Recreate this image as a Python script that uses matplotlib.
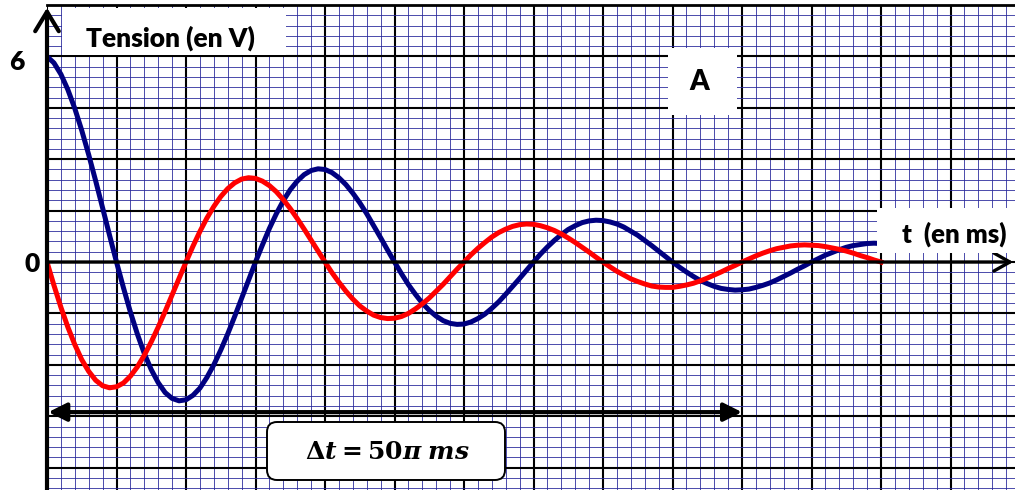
import numpy as np
import matplotlib.pyplot as plt
from matplotlib.patches import Rectangle, FancyBboxPatch

t_ms = np.pi / 2 * np.arange(121)

# Tension bleue (en V)
u_bleu = [6.00, 5.81, 5.48, 5.03, 4.48, 3.84, 3.13, 2.37, 1.58, 0.78,
          0.00, -0.75, -1.46, -2.10, -2.67, -3.14, -3.52, -3.81, -3.98, -4.05,
          -4.02, -3.89, -3.68, -3.37, -3.00, -2.57, -2.10, -1.59, -1.06, -0.53,
          0.00, 0.50, 0.98, 1.41, 1.79, 2.11, 2.36, 2.55, 2.67, 2.72,
          2.70, 2.61, 2.46, 2.26, 2.01, 1.73, 1.41, 1.06, 0.71, 0.35,
          0.00, -0.34, -0.66, -0.94, -1.20, -1.41, -1.58, -1.71, -1.79, -1.82,
          -1.81, -1.75, -1.65, -1.52, -1.35, -1.16, -0.94, -0.71, -0.48, -0.24,
          0.00, 0.23, 0.44, 0.63, 0.80, 0.95, 1.06, 1.15, 1.20, 1.22,
          1.21, 1.17, 1.11, 1.02, 0.90, 0.78, 0.63, 0.48, 0.32, 0.16,
          0.00, -0.15, -0.29, -0.42, -0.54, -0.63, -0.71, -0.77, -0.80, -0.82,
          -0.81, -0.79, -0.74, -0.68, -0.61, -0.52, -0.42, -0.32, -0.21, -0.11,
          0.00, 0.10, 0.20, 0.28, 0.36, 0.43, 0.48, 0.51, 0.54, 0.55,
          0.54]

# Tension rouge (en V)
u_rouge = [0.00, -0.68, -1.32, -1.90, -2.41, -2.85, -3.19, -3.45, -3.61, -3.67,
           -3.64, -3.53, -3.33, -3.06, -2.72, -2.33, -1.90, -1.44, -0.96, -0.48,
           0.00, 0.46, 0.89, 1.28, 1.62, 1.91, 2.14, 2.31, 2.42, 2.46,
           2.44, 2.36, 2.23, 2.05, 1.82, 1.56, 1.27, 0.96, 0.64, 0.32,
           0.00, -0.31, -0.59, -0.85, -1.08, -1.28, -1.43, -1.55, -1.62, -1.65,
           -1.64, -1.59, -1.50, -1.37, -1.22, -1.05, -0.85, -0.65, -0.43, -0.21,
           0.00, 0.21, 0.40, 0.57, 0.73, 0.86, 0.96, 1.04, 1.09, 1.11,
           1.10, 1.06, 1.00, 0.92, 0.82, 0.70, 0.57, 0.43, 0.29, 0.14,
           0.00, -0.14, -0.27, -0.38, -0.49, -0.57, -0.64, -0.70, -0.73, -0.74,
           -0.74, -0.71, -0.67, -0.62, -0.55, -0.47, -0.38, -0.29, -0.19, -0.10,
           0.00, 0.09, 0.18, 0.26, 0.33, 0.39, 0.43, 0.47, 0.49, 0.50,
           0.49, 0.48, 0.45, 0.41, 0.37, 0.32, 0.26, 0.19, 0.13, 0.06,
           0.00]

delta_t = 50 * np.pi      # ms, durée indiquée par la double flèche
y_ticks_lbl = [6, 0]      # graduations écrites sur l'axe vertical

plt.rcParams['mathtext.fontset'] = 'custom'
plt.rcParams['mathtext.rm'] = 'DejaVu Serif:bold'
plt.rcParams['mathtext.it'] = 'DejaVu Serif:bold:italic'

W, H = 1015, 490
fig = plt.figure(figsize=(W / 100, H / 100), dpi=100)
fig.patch.set_facecolor('white')

# Axes : 5 pi ms par grand carreau, 1.5 V par grand carreau
ax = fig.add_axes([47 / W, 0, (W - 47) / W, 485 / H])
x_max = (W - 47) * 5 * np.pi / 69.5
ax.set_xlim(0, x_max)
ax.set_ylim(7.5 - 485 / 34.27, 7.5)

ax.set_xticks(np.arange(0, x_max, 5 * np.pi))
ax.set_xticks(np.arange(0, x_max, np.pi), minor=True)
ax.set_yticks(np.arange(-4, 6) * 1.5)
ax.set_yticks(np.arange(-22, 26) * 0.3, minor=True)
ax.tick_params(which='both', length=0, labelbottom=False, labelleft=False)
ax.grid(which='minor', color='#2a2a9c', lw=0.7, alpha=0.85)
ax.grid(which='major', color='black', lw=1.5)
ax.set_axisbelow(True)
for side in ['left', 'right', 'bottom']:
    ax.spines[side].set_visible(False)
ax.spines['top'].set_linewidth(2)

# Courbes
ax.plot(t_ms, u_bleu, color='#000080', lw=3.6, zorder=3)
ax.plot(t_ms, u_rouge, color='#ff0000', lw=3.6, zorder=3)

# Axes fléchés
def fleche(xy, xytext, style, lw):
    a = ax.annotate('', xy=xy, xytext=xytext,
                    arrowprops=dict(arrowstyle=style, lw=lw, color='black',
                                    shrinkA=0, shrinkB=0),
                    annotation_clip=False, zorder=4)
    a.arrow_patch.set_clip_on(False)
    return a

fleche((0, 7.42), (0, -6.7), '->,head_length=1.4,head_width=0.85', 3)
fleche((x_max - 0.4, 0), (0, 0), '->,head_length=1.15,head_width=0.65', 2.4)
fleche((delta_t, -4.38), (0.3, -4.38), '<|-|>,head_length=1.1,head_width=0.55', 3)

# Cadres et textes (positions en pouces depuis le coin bas gauche)
tr = fig.dpi_scale_trans
lbl_font = ['Lato', 'DejaVu Sans']

def cadre(x0, y0, x1, y1):
    fig.add_artist(Rectangle((x0 / 100, (H - y1) / 100), (x1 - x0) / 100,
                             (y1 - y0) / 100, transform=tr, fc='white',
                             ec='none', zorder=5))

cadre(62, 8, 286, 55)
cadre(668, 48, 737, 115)
cadre(877, 208, W, 253)

fig.add_artist(FancyBboxPatch((2.67, (H - 480) / 100), 2.38, 0.58,
                              boxstyle='round,pad=0,rounding_size=0.1',
                              transform=tr, fc='white', ec='black', lw=1.4,
                              zorder=5))

fig.text(1.70, (H - 38) / 100, 'Tension (en V)', transform=tr, ha='center',
         va='center', fontsize=19, fontweight='heavy', family=lbl_font, zorder=6)
fig.text(6.99, (H - 82) / 100, 'A', transform=tr, ha='center', va='center',
         fontsize=20, fontweight='heavy', family=lbl_font, zorder=6)
fig.text(9.54, (H - 234) / 100, 't  (en ms)', transform=tr, ha='center',
         va='center', fontsize=18.5, fontweight='heavy', family=lbl_font, zorder=6)
fig.text(3.87, (H - 452) / 100, r'$\Delta t = 50\pi\;ms$', transform=tr,
         ha='center', va='center', fontsize=18, zorder=6)

fig.text(0.17, (H - 62) / 100, str(y_ticks_lbl[0]), transform=tr, ha='center',
         va='center', fontsize=19, fontweight='heavy', family=lbl_font)
fig.text(0.32, (H - 264) / 100, str(y_ticks_lbl[1]), transform=tr, ha='center',
         va='center', fontsize=19, fontweight='heavy', family=lbl_font)

fig.savefig('out.png', dpi=100, facecolor='white')
